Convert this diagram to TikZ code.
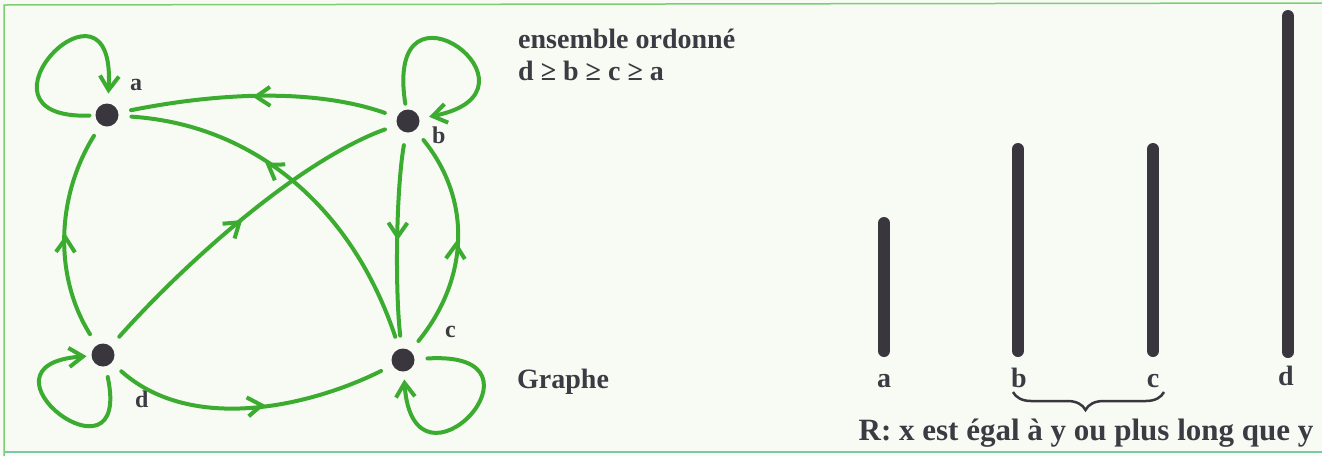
\documentclass[tikz,border=0pt]{standalone}
\usepackage{fontspec}
\setmainfont{Liberation Serif}
\usetikzlibrary{arrows.meta,decorations.markings,decorations.pathreplacing}
\definecolor{edgegreen}{RGB}{60,172,48}
\definecolor{dotgray}{RGB}{58,54,62}
\definecolor{bggreen}{RGB}{247,251,244}
\definecolor{framegreen}{RGB}{125,205,115}
\definecolor{framecyan}{RGB}{120,200,170}
\definecolor{textgray}{RGB}{60,58,66}
\begin{document}
\begin{tikzpicture}[x=1pt,y=-1pt,
  vertex/.style={circle,fill=dotgray,minimum size=23pt,inner sep=0pt,outer sep=0pt},
  gedge/.style={draw=edgegreen,line width=4pt,line cap=round,shorten <=13pt,shorten >=13pt},
  midarrow/.style={postaction={decorate},
    decoration={markings,mark=at position #1 with {\arrow[edgegreen,line width=4pt]{Straight Barb[length=14pt,width=19pt]}}}},
  loopedge/.style={draw=edgegreen,line width=4pt,line cap=round,-{Straight Barb[length=14pt,width=19pt]}},
  glabel/.style={text=textgray,font=\fontsize{24}{28}\selectfont\bfseries,inner sep=0pt},
  txt/.style={text=textgray,font=\fontsize{28}{32}\selectfont\bfseries,inner sep=0pt},
  bigtxt/.style={text=textgray,font=\fontsize{31}{35}\selectfont\bfseries,inner sep=0pt},
  bar/.style={draw=dotgray,line width=12pt,line cap=round}]
\useasboundingbox (0,0) rectangle (1322,456);
\fill[bggreen] (0,0) rectangle (1322,456);
\draw[framegreen,line width=1.5pt] (4,456) -- (4,5) -- (1322,3);
\draw[framecyan,line width=2pt] (4,452) -- (1322,452);

% graph vertices
\node[vertex] (a) at (107,115) {};
\node[vertex] (b) at (408,121) {};
\node[vertex] (c) at (403,360) {};
\node[vertex] (d) at (103,355) {};
\node[glabel,anchor=base west] (ta) at (130,90) {a};
\node[glabel,anchor=base west] (tb) at (432,143) {b};
\node[glabel,anchor=base west] (tc) at (445,337) {c};
\node[glabel,anchor=base west] (td) at (135,407) {d};

% edges
\path[gedge,midarrow=0.52] (b) .. controls +(-100,-35) and +(100,-20) .. (a);
\path[gedge,midarrow=0.6] (c) .. controls +(-50,-150) and +(150,10) .. (a);
\path[gedge,midarrow=0.5] (d) .. controls +(80,-90) and +(-110,40) .. (b);
\path[gedge,midarrow=0.5] (d) .. controls +(-50,-80) and +(-50,80) .. (a);
\path[gedge,midarrow=0.5] (b) .. controls +(-12,70) and +(-8,-70) .. (c);
\path[gedge,midarrow=0.5] (c) .. controls +(65,-80) and +(65,80) .. (b);
\path[gedge,midarrow=0.55] (d) .. controls +(90,80) and +(-90,45) .. (c);

% loops
\path[loopedge,shorten <=6pt,shorten >=10pt] (a) .. controls +(-150,5) and +(10,-160) .. (a);
\path[loopedge,shorten <=6pt,shorten >=10pt] (b) .. controls +(-25,-160) and +(150,-30) .. (b);
\path[loopedge,shorten <=11pt,shorten >=5pt] (d) .. controls +(30,140) and +(-140,10) .. (d);
\path[loopedge,shorten <=13pt,shorten >=8pt] (c) .. controls +(160,-10) and +(10,150) .. (c);

% texts
\node[txt,anchor=base west] (t1) at (518,48) {ensemble ordonné};
\node[txt,anchor=base west] (t2) at (518,80) {d ≥ b ≥ c ≥ a};
\node[txt,anchor=base west] (t3) at (517,388) {Graphe};

% bars
\draw[bar] (884,223) -- (884,351);
\draw[bar] (1018,149) -- (1018,351);
\draw[bar] (1153,149) -- (1153,351);
\draw[bar] (1288,16) -- (1288,352);
\node[txt,anchor=base] (la) at (884,387) {a};
\node[txt,anchor=base] (lb) at (1019,387) {b};
\node[txt,anchor=base] (lc) at (1153,387) {c};
\node[txt,anchor=base] (ld) at (1286,385) {d};
\draw[dotgray,line width=2.5pt,decorate,decoration={brace,mirror,amplitude=18pt,aspect=0.48}] (1013,392) -- (1164,392);
\node[bigtxt,anchor=base] (rel) at (1086,440) {R: x est égal à y ou plus long que y};
\end{tikzpicture}
\end{document}
